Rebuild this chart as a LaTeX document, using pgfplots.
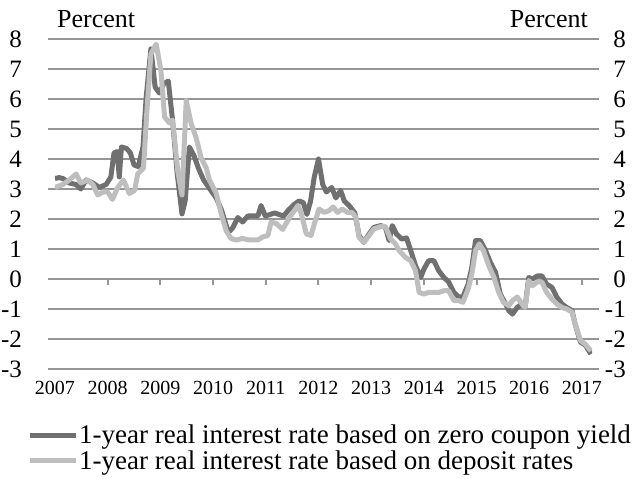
\documentclass[border=0pt]{standalone}
\usepackage{fontspec}
\setmainfont{Liberation Serif}
\usepackage{pgfplots}
\pgfplotsset{compat=1.18}
\definecolor{zcdark}{RGB}{112,112,112}
\definecolor{deplight}{RGB}{190,190,190}
\definecolor{gridgray}{RGB}{150,150,150}

% zero coupon based
\pgfplotstableread{
t v
2007.00 3.35
2007.08 3.38
2007.15 3.35
2007.27 3.2
2007.40 3.15
2007.49 3.0
2007.59 3.3
2007.72 3.2
2007.84 3.05
2007.97 3.15
2008.06 3.4
2008.12 4.2
2008.18 4.25
2008.22 3.4
2008.26 4.4
2008.36 4.35
2008.43 4.2
2008.50 3.8
2008.58 3.75
2008.67 4.4
2008.73 6.05
2008.82 7.67
2008.90 6.4
2008.98 6.2
2009.06 6.5
2009.15 6.6
2009.23 5.3
2009.32 3.5
2009.41 2.17
2009.47 2.6
2009.55 4.4
2009.64 4.1
2009.72 3.7
2009.82 3.3
2009.94 3.0
2010.06 2.7
2010.16 2.3
2010.22 1.95
2010.29 1.55
2010.37 1.7
2010.47 2.05
2010.56 1.9
2010.66 2.1
2010.75 2.1
2010.85 2.1
2010.91 2.45
2010.99 2.1
2011.08 2.15
2011.17 2.2
2011.25 2.15
2011.34 2.1
2011.43 2.3
2011.55 2.5
2011.63 2.6
2011.71 2.55
2011.78 2.15
2011.85 2.6
2011.92 3.4
2012.00 4.0
2012.08 3.15
2012.15 2.9
2012.25 3.05
2012.33 2.7
2012.42 2.95
2012.49 2.6
2012.58 2.45
2012.69 2.2
2012.77 1.45
2012.86 1.22
2012.96 1.5
2013.05 1.72
2013.18 1.78
2013.27 1.72
2013.34 1.28
2013.40 1.78
2013.48 1.5
2013.58 1.33
2013.67 1.37
2013.75 0.95
2013.84 0.45
2013.94 0.05
2014.00 0.33
2014.09 0.61
2014.19 0.61
2014.28 0.28
2014.38 0.05
2014.47 -0.1
2014.57 -0.45
2014.66 -0.6
2014.74 -0.6
2014.84 -0.17
2014.91 0.39
2014.98 1.28
2015.07 1.28
2015.17 0.95
2015.26 0.56
2015.36 0.22
2015.45 -0.5
2015.55 -0.83
2015.61 -1.05
2015.68 -1.17
2015.77 -0.95
2015.86 -0.83
2015.92 -0.95
2015.99 0.05
2016.06 0.0
2016.15 0.1
2016.24 0.1
2016.33 -0.17
2016.43 -0.28
2016.52 -0.6
2016.62 -0.83
2016.71 -0.95
2016.81 -1.05
2016.87 -1.5
2016.97 -2.1
2017.06 -2.2
2017.17 -2.5
}\zerocoupon

% deposit rate based
\pgfplotstableread{
t v
2007.00 3.05
2007.15 3.15
2007.27 3.3
2007.40 3.5
2007.49 3.2
2007.62 3.3
2007.72 3.15
2007.81 2.8
2007.91 2.9
2008.00 2.9
2008.09 2.65
2008.19 3.05
2008.30 3.3
2008.41 2.85
2008.51 2.95
2008.57 3.5
2008.68 3.7
2008.74 5.5
2008.82 7.5
2008.92 7.83
2009.01 6.95
2009.08 5.4
2009.17 5.2
2009.23 5.3
2009.33 3.6
2009.41 2.8
2009.49 5.95
2009.58 5.2
2009.68 4.7
2009.77 4.05
2009.87 3.7
2009.93 3.3
2010.06 2.85
2010.15 2.2
2010.25 1.6
2010.34 1.35
2010.44 1.3
2010.56 1.35
2010.69 1.3
2010.85 1.3
2010.94 1.4
2011.04 1.45
2011.10 1.9
2011.20 1.85
2011.32 1.65
2011.45 2.05
2011.61 2.45
2011.67 2.2
2011.77 1.5
2011.86 1.45
2011.92 1.83
2012.01 2.33
2012.11 2.22
2012.20 2.28
2012.28 2.4
2012.36 2.22
2012.45 2.33
2012.55 2.22
2012.64 2.22
2012.71 2.05
2012.77 1.39
2012.86 1.22
2012.96 1.45
2013.05 1.67
2013.18 1.75
2013.27 1.75
2013.37 1.33
2013.46 1.17
2013.53 0.95
2013.65 0.72
2013.75 0.61
2013.84 0.28
2013.91 -0.45
2014.00 -0.5
2014.09 -0.45
2014.19 -0.45
2014.28 -0.45
2014.38 -0.39
2014.47 -0.39
2014.57 -0.72
2014.66 -0.72
2014.74 -0.78
2014.84 -0.33
2014.91 0.17
2014.98 0.95
2015.05 1.17
2015.13 0.95
2015.23 0.45
2015.33 0.05
2015.42 -0.45
2015.51 -0.78
2015.61 -0.89
2015.68 -0.72
2015.77 -0.6
2015.86 -0.83
2015.92 -0.95
2015.99 -0.05
2016.06 -0.22
2016.15 -0.1
2016.24 -0.1
2016.33 -0.45
2016.43 -0.67
2016.52 -0.83
2016.62 -0.95
2016.71 -1.0
2016.81 -1.1
2016.87 -1.5
2016.97 -2.05
2017.06 -2.17
2017.17 -2.4
}\deposit

\begin{document}
\begin{tikzpicture}
\useasboundingbox (-55pt,-110pt) rectangle (583pt,369pt);
\pgfplotsset{
    base/.style={
        scale only axis, width=537pt, height=330pt,
        xmin=2007, xmax=2017.19, ymin=-3, ymax=8,
        ytick={-3,...,8},
        /pgf/number format/assume math mode=true,
        yticklabel style={font=\fontsize{25}{25}\selectfont, anchor=east, inner sep=0pt},
    }
}
\begin{axis}[
    base,
    clip mode=individual,
    xtick={2007,...,2017},
    xticklabels={2007,2008,2009,2010,2011,2012,2013,2014,2015,2016,2017},
    x tick style={draw=none},
    xticklabel style={font=\fontsize{20}{20}\selectfont, anchor=north, inner sep=0pt, yshift=-5pt},
    ytick pos=both, yticklabel pos=left,
    tick align=outside, major tick length=7pt,
    y tick style={gridgray, line width=2pt},
    yticklabel style={xshift=-26pt},
    ymajorgrids, grid style={gridgray, line width=2pt},
    x axis line style={draw=none},
    y axis line style={gridgray, line width=2.5pt},
    legend style={draw=none, fill=none, at={(axis description cs:0,0)}, anchor=north west,
        xshift=-28pt, yshift=-55pt, inner sep=0pt, row sep=3pt,
        font=\fontsize{27}{27}\selectfont,
        nodes={inner sep=1pt}},
    legend cell align=left,
    legend image code/.code={\draw[#1] (0pt,0pt) -- (46pt,0pt);},
]
\pgfplotsinvokeforeach{2008,...,2017}{
    \draw[gridgray, line width=2pt] (axis cs:#1,0) -- ([yshift=-6pt]axis cs:#1,0);
}
\addplot[zcdark, line width=5pt, line join=round] table[x=t, y=v] {\zerocoupon};
\addlegendentry{1-year real interest rate based on zero coupon yield}
\addplot[deplight, line width=5pt, line join=round] table[x=t, y=v] {\deposit};
\addlegendentry{1-year real interest rate based on deposit rates}
\node[anchor=base west, inner sep=0pt, font=\fontsize{26}{26}\selectfont]
    at ([xshift=2pt, yshift=11pt]rel axis cs:0,1) {Percent};
\node[anchor=base east, inner sep=0pt, font=\fontsize{26}{26}\selectfont]
    at ([xshift=-4pt, yshift=11pt]rel axis cs:1,1) {Percent};
\end{axis}
\begin{axis}[
    base,
    axis line style={draw=none},
    xtick=\empty,
    major tick length=0pt,
    yticklabel pos=right,
    yticklabel style={xshift=34pt},
]
\addplot[draw=none] coordinates {(2010,0)};
\end{axis}
\end{tikzpicture}
\end{document}
